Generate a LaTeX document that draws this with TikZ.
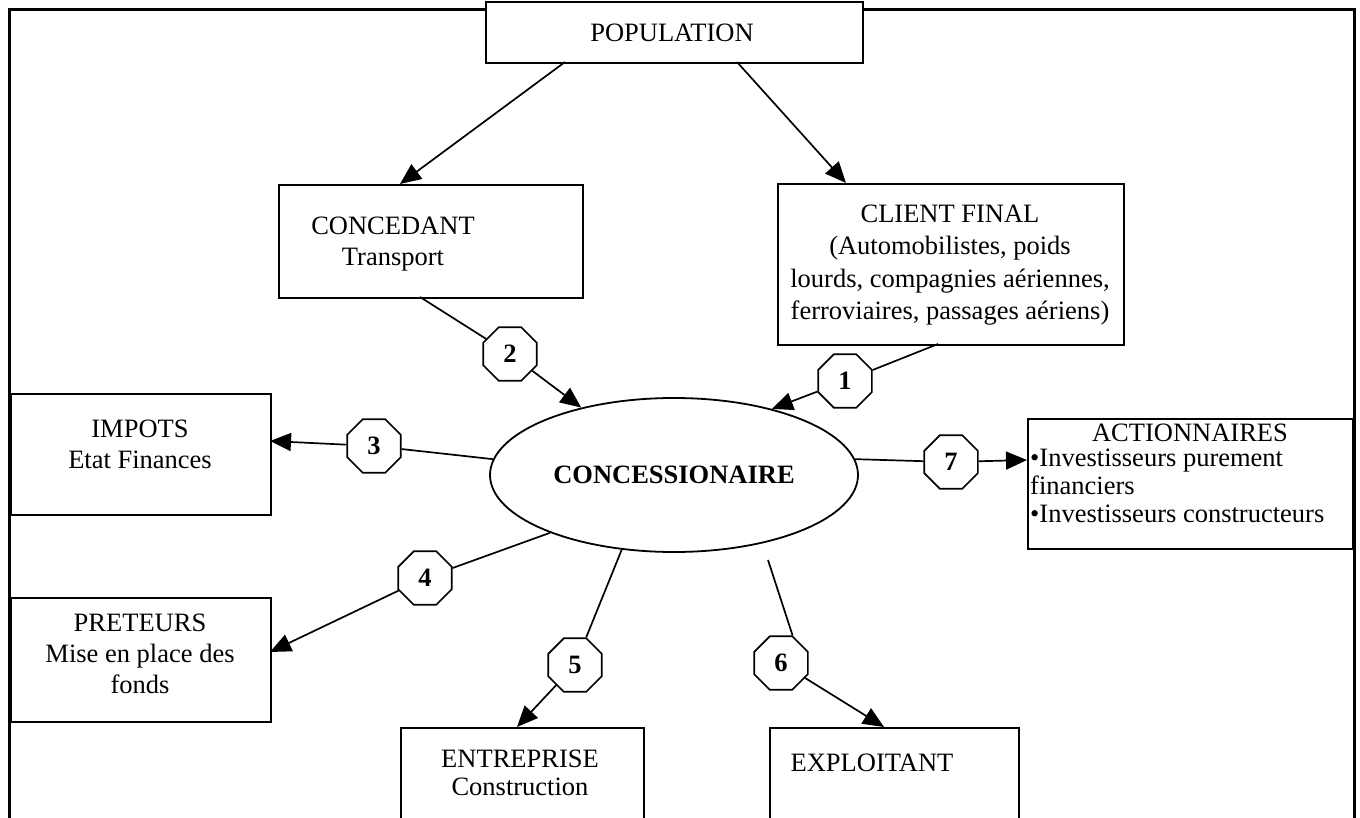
\documentclass[tikz,border=0pt]{standalone}
\usepackage{fontspec}
\setmainfont{Liberation Serif}
\usetikzlibrary{arrows.meta,shapes.geometric}
\begin{document}
\begin{tikzpicture}[x=1pt,y=-1pt,
  frameline/.style={line width=3pt},
  box/.style={draw, line width=1.8pt, inner sep=0pt, anchor=north west},
  txt/.style={inner sep=0pt, align=center, font=\fontsize{26.5}{31}\selectfont},
  lbl/.style={txt, execute at begin node=\strut, execute at end node=\strut},
  oct/.style={draw, regular polygon, regular polygon sides=8, minimum size=58pt,
    inner sep=0pt, line width=1.6pt, fill=white, font=\fontsize{26.5}{31}\selectfont\bfseries},
  conn/.style={line width=1.7pt},
  arr/.style={line width=1.7pt, -{Triangle[length=21pt,width=18pt]}},
]
\useasboundingbox (0,0) rectangle (1360,818);
\clip (0,0) rectangle (1360,818);
% outer frame (open at the bottom of the page)
\draw[frameline] (9,840) -- (9,10) -- (1354,10) -- (1354,840);

% boxes
\node[box, fill=white, minimum width=377pt, minimum height=61pt] (pop) at (485,1) {};
\node[box, minimum width=304pt, minimum height=113pt] (concedant) at (278,184) {};
\node[box, minimum width=346pt, minimum height=161pt] (client) at (777,183) {};
\node[box, minimum width=260pt, minimum height=121pt] (impots) at (10,393) {};
\node[box, minimum width=260pt, minimum height=124pt] (preteurs) at (10,597) {};
\node[box, minimum width=325pt, minimum height=130pt] (action) at (1027,418) {};
\node[box, minimum width=243pt, minimum height=120pt] (entreprise) at (400,727) {};
\node[box, minimum width=249pt, minimum height=120pt] (exploitant) at (769,727) {};

% texts
\node[lbl] (popT) at (672,35) {POPULATION};
\node[lbl] (concedantT) at (393,246) {CONCEDANT\\Transport};
\node[lbl, font=\fontsize{26.5}{32.3}\selectfont] (clientT) at (950,267) {CLIENT FINAL\\(Automobilistes, poids\\lourds, compagnies aériennes,\\ferroviaires, passages aériens)};
\node[lbl] (impotsT) at (140,449) {IMPOTS\\Etat Finances};
\node[lbl] (preteursT) at (140,658) {PRETEURS\\Mise en place des\\fonds};
\node[lbl, font=\fontsize{26.5}{28}\selectfont] (entrepriseT) at (520,777) {ENTREPRISE\\Construction};
\node[lbl] (exploitantT) at (872,765) {EXPLOITANT};
\node[txt] (actionT) at (1190,433) {ACTIONNAIRES};
\node[txt, align=left, anchor=west, font=\fontsize{26.5}{28}\selectfont] (actionB) at (1030,486) {•Investisseurs purement\\financiers\\•Investisseurs constructeurs};

% central ellipse
\node[draw, ellipse, minimum width=368pt, minimum height=154pt, line width=1.8pt,
  inner sep=0pt, font=\fontsize{26.5}{31}\selectfont\bfseries] (conc) at (674,475) {CONCESSIONAIRE};

% octagons
\node[oct] (o1) at (845,381) {1};
\node[oct] (o2) at (510,354) {2};
\node[oct] (o3) at (374,446) {3};
\node[oct] (o4) at (425,578) {4};
\node[oct] (o5) at (575,665) {5};
\node[oct] (o6) at (781,663) {6};
\node[oct] (o7) at (951,462) {7};

% connector end points
\coordinate (popL) at (565,62);
\coordinate (popR) at (737,62);
\coordinate (concedantTop) at (400,184);
\coordinate (clientTop) at (846,183);
\coordinate (concedantBot) at (420,297);
\coordinate (clientBot) at (938,344);
\coordinate (impotsR) at (270,441);
\coordinate (preteursR) at (270,652);
\coordinate (entrepriseTop) at (517,727);
\coordinate (exploitantTop) at (884,727);
\coordinate (actionL) at (1027,460);
\coordinate (concSE) at (768,560);

% connectors
\draw[arr] (popL) -- (concedantTop);
\draw[arr] (popR) -- (clientTop);
\draw[conn] (concedantBot) -- (o2);
\draw[arr] (o2) -- (conc.144);
\draw[conn] (clientBot) -- (o1);
\draw[arr] (o1) -- (conc.34);
\draw[conn] (conc.175) -- (o3);
\draw[arr] (o3) -- (impotsR);
\draw[conn] (conc.205) -- (o4);
\draw[arr] (o4) -- (preteursR);
\draw[conn] (conc.235) -- (o5);
\draw[arr] (o5) -- (entrepriseTop);
\draw[conn] (concSE) -- (o6.67.5);
\draw[arr] (o6) -- (exploitantTop);
\draw[conn] (conc.5) -- (o7);
\draw[arr] (o7) -- (actionL);
\end{tikzpicture}
\end{document}
